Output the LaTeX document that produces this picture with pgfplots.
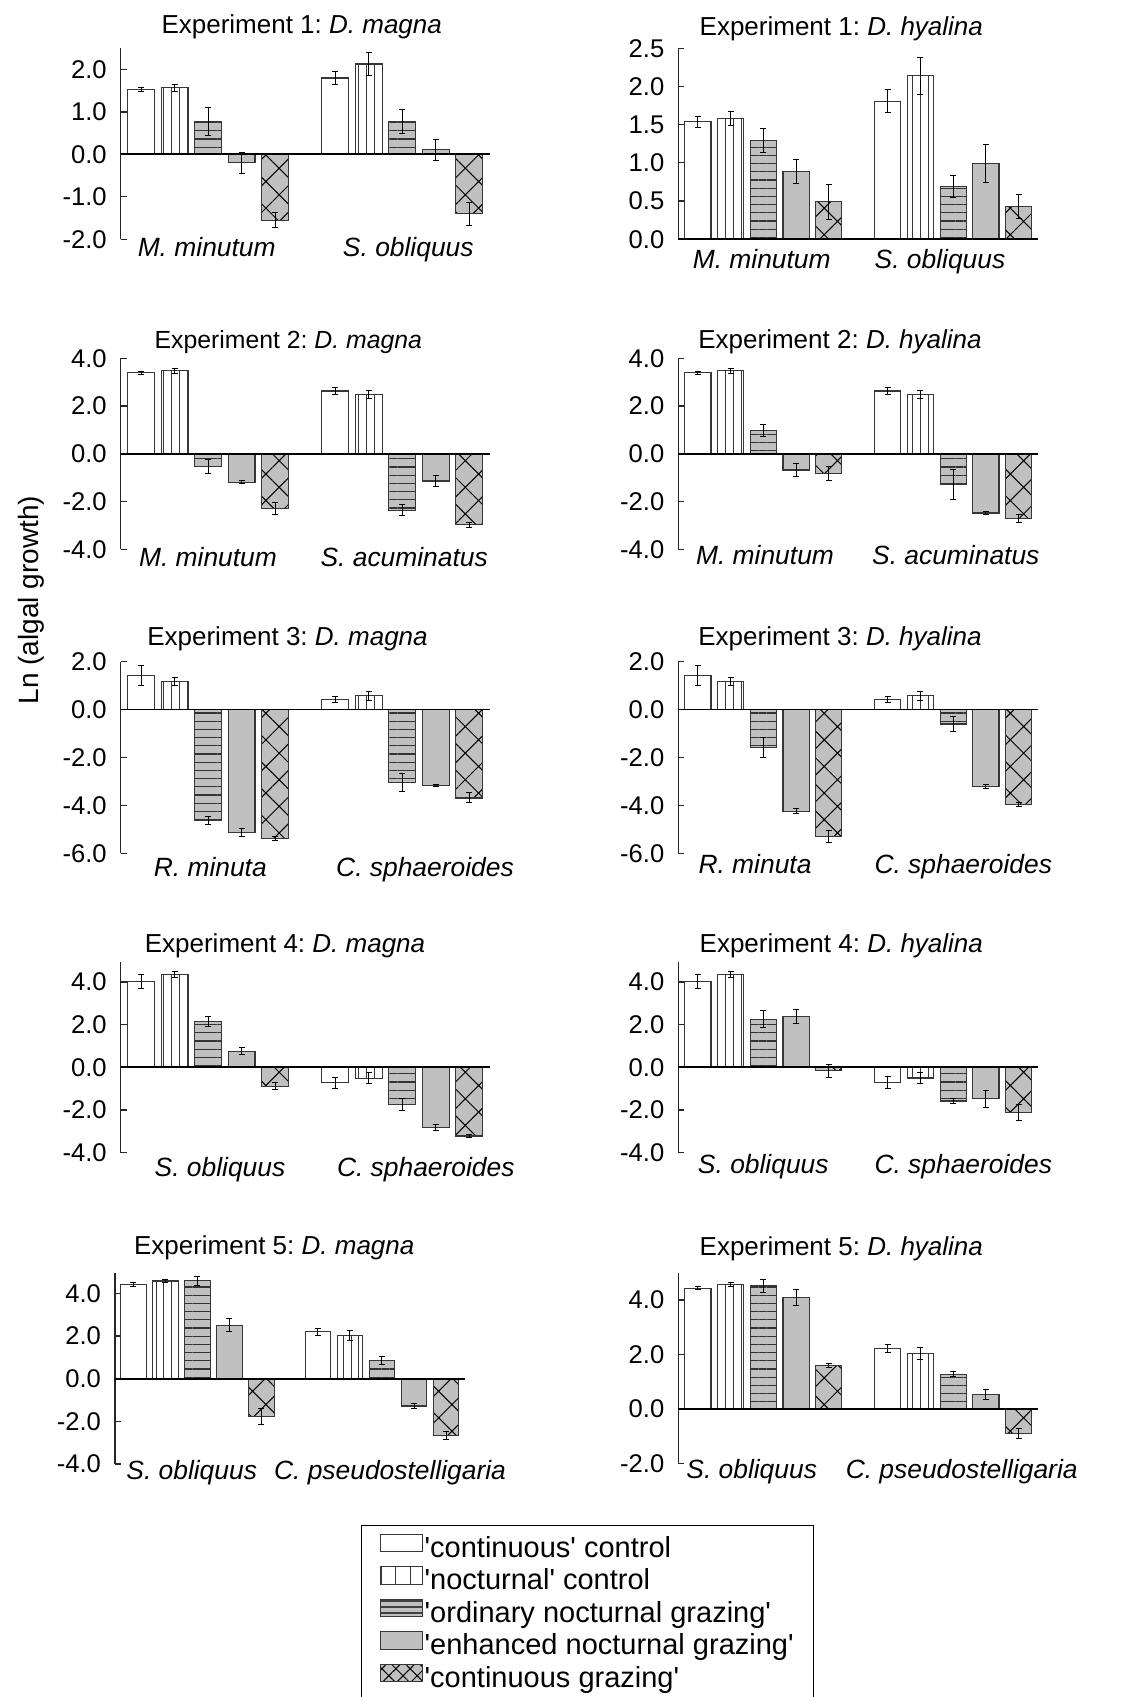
\documentclass[border=0pt]{standalone}
\usepackage{fontspec}
\setmainfont{Liberation Sans}
\usepackage{pgfplots}
\pgfplotsset{compat=1.18}
\usetikzlibrary{patterns.meta}
\frenchspacing

\definecolor{barfill}{RGB}{192,192,192}
\definecolor{edge}{RGB}{55,55,55}

\tikzset{zero/.style={line width=0.9pt, black}}
\pgfplotsset{
  panel/.style={
    scale only axis, anchor=north west, clip=false,
    axis x line=none, axis y line=left,
    axis line style={-}, y axis line style={line width=0.6pt, black!85},
    tick align=inside, major tick length=3pt,
    ytick style={black!85, line width=0.6pt},
    xmin=-0.6, xmax=10.4,
    yticklabel style={/pgf/number format/.cd, fixed, fixed zerofill, precision=1,
      assume math mode=true, /tikz/.cd, font=\fontsize{12.8}{15}\selectfont, xshift=-3.5pt},
  },
  sbar/.style={ybar, bar width=0.8, bar shift=0pt, draw=edge, line width=0.55pt,
    error bars/.cd, y dir=both, y explicit, error mark=-,
    error bar style={black, line width=0.5pt},
    error mark options={rotate=90, black, mark size=1.5pt, line width=0.5pt}},
  s1/.style={fill=white, sbar},
  s2/.style={fill=white, postaction={pattern={Lines[angle=90,distance=3.9pt,line width=0.5pt]}, pattern color=edge}, sbar},
  s3/.style={fill=barfill, postaction={pattern={Lines[angle=0,distance=4.1pt,line width=0.6pt]}, pattern color=black!80}, sbar},
  s4/.style={fill=barfill, sbar},
  s5/.style={fill=barfill, postaction={pattern={Hatch[angle=45,distance=9.4pt,line width=0.5pt]}, pattern color=black}, sbar},
}
\newcommand\ttl{\fontsize{13}{15}\selectfont}
\newcommand\cat{\fontsize{13.2}{15}\selectfont\itshape}
\newcommand\q{\textquotesingle}

\begin{document}
\begin{tikzpicture}
\useasboundingbox (0,0) rectangle (568pt,848.5pt);

% ---------- Row 1 ----------
\begin{axis}[panel, at={(60.35pt,824.35pt)}, width=184.65pt, height=95.5pt,
  xmin=-0.61, xmax=10.42, ymin=-2, ymax=2.5, ytick={-2,-1,0,1,2}]
\addplot[s1] coordinates {(0,1.53) +- (0,0.05) (5.8,1.80) +- (0,0.15)};
\addplot[s2] coordinates {(1,1.57) +- (0,0.08) (6.8,2.13) +- (0,0.26)};
\addplot[s3] coordinates {(2,0.78) +- (0,0.33) (7.8,0.78) +- (0,0.28)};
\addplot[s4] coordinates {(3,-0.20) +- (0,0.25) (8.8,0.11) +- (0,0.25)};
\addplot[s5] coordinates {(4,-1.55) +- (0,0.17) (9.8,-1.40) +- (0,0.27)};
\draw[zero] (axis cs:-0.61,0) -- (axis cs:10.42,0);
\end{axis}

\begin{axis}[panel, at={(339.15pt,824.35pt)}, width=180pt, height=95.5pt,
  ymin=0, ymax=2.5, ytick={0,0.5,1,1.5,2,2.5}]
\addplot[s1] coordinates {(0,1.536) +- (0,0.07) (5.8,1.806) +- (0,0.15)};
\addplot[s2] coordinates {(1,1.58) +- (0,0.09) (6.8,2.14) +- (0,0.245)};
\addplot[s3] coordinates {(2,1.29) +- (0,0.16) (7.8,0.69) +- (0,0.14)};
\addplot[s4] coordinates {(3,0.886) +- (0,0.155) (8.8,0.99) +- (0,0.25)};
\addplot[s5] coordinates {(4,0.49) +- (0,0.23) (9.8,0.43) +- (0,0.155)};
\draw[zero] (axis cs:-0.6,0) -- (axis cs:10.4,0);
\end{axis}

% ---------- Row 2 ----------
\begin{axis}[panel, at={(60.35pt,669.35pt)}, width=184.65pt, height=95.5pt,
  xmin=-0.61, xmax=10.42, ymin=-4, ymax=4, ytick={-4,-2,0,2,4}]
\addplot[s1] coordinates {(0,3.39) +- (0,0.07) (5.8,2.63) +- (0,0.14)};
\addplot[s2] coordinates {(1,3.48) +- (0,0.10) (6.8,2.48) +- (0,0.17)};
\addplot[s3] coordinates {(2,-0.53) +- (0,0.30) (7.8,-2.36) +- (0,0.23)};
\addplot[s4] coordinates {(3,-1.20) +- (0,0.06) (8.8,-1.14) +- (0,0.25)};
\addplot[s5] coordinates {(4,-2.30) +- (0,0.26) (9.8,-2.98) +- (0,0.10)};
\draw[zero] (axis cs:-0.61,0) -- (axis cs:10.42,0);
\end{axis}

\begin{axis}[panel, at={(339.15pt,669.35pt)}, width=180pt, height=95.5pt,
  ymin=-4, ymax=4, ytick={-4,-2,0,2,4}]
\addplot[s1] coordinates {(0,3.39) +- (0,0.07) (5.8,2.63) +- (0,0.14)};
\addplot[s2] coordinates {(1,3.48) +- (0,0.10) (6.8,2.48) +- (0,0.17)};
\addplot[s3] coordinates {(2,0.98) +- (0,0.26) (7.8,-1.28) +- (0,0.62)};
\addplot[s4] coordinates {(3,-0.68) +- (0,0.29) (8.8,-2.48) +- (0,0.08)};
\addplot[s5] coordinates {(4,-0.82) +- (0,0.28) (9.8,-2.72) +- (0,0.17)};
\draw[zero] (axis cs:-0.6,0) -- (axis cs:10.4,0);
\end{axis}

% ---------- Row 3 ----------
\begin{axis}[panel, at={(60.35pt,517.65pt)}, width=184.65pt, height=95.8pt,
  xmin=-0.61, xmax=10.42, ymin=-6, ymax=2, ytick={-6,-4,-2,0,2}]
\addplot[s1] coordinates {(0,1.42) +- (0,0.40) (5.8,0.42) +- (0,0.125)};
\addplot[s2] coordinates {(1,1.17) +- (0,0.16) (6.8,0.57) +- (0,0.19)};
\addplot[s3] coordinates {(2,-4.63) +- (0,0.15) (7.8,-3.04) +- (0,0.37)};
\addplot[s4] coordinates {(3,-5.13) +- (0,0.15) (8.8,-3.18) +- (0,0.04)};
\addplot[s5] coordinates {(4,-5.38) +- (0,0.07) (9.8,-3.69) +- (0,0.21)};
\draw[zero] (axis cs:-0.61,0) -- (axis cs:10.42,0);
\end{axis}

\begin{axis}[panel, at={(339.15pt,517.65pt)}, width=180pt, height=95.8pt,
  ymin=-6, ymax=2, ytick={-6,-4,-2,0,2}]
\addplot[s1] coordinates {(0,1.42) +- (0,0.40) (5.8,0.42) +- (0,0.125)};
\addplot[s2] coordinates {(1,1.17) +- (0,0.16) (6.8,0.57) +- (0,0.19)};
\addplot[s3] coordinates {(2,-1.58) +- (0,0.42) (7.8,-0.60) +- (0,0.31)};
\addplot[s4] coordinates {(3,-4.25) +- (0,0.10) (8.8,-3.21) +- (0,0.09)};
\addplot[s5] coordinates {(4,-5.29) +- (0,0.26) (9.8,-3.96) +- (0,0.10)};
\draw[zero] (axis cs:-0.6,0) -- (axis cs:10.4,0);
\end{axis}

% ---------- Row 4 ----------
\begin{axis}[panel, at={(60.35pt,367.65pt)}, width=184.65pt, height=95.5pt,
  xmin=-0.61, xmax=10.42, ymin=-4, ymax=4.95, ytick={-4,-2,0,2,4}]
\addplot[s1] coordinates {(0,4.02) +- (0,0.34) (5.8,-0.73) +- (0,0.26)};
\addplot[s2] coordinates {(1,4.34) +- (0,0.13) (6.8,-0.51) +- (0,0.26)};
\addplot[s3] coordinates {(2,2.13) +- (0,0.23) (7.8,-1.73) +- (0,0.28)};
\addplot[s4] coordinates {(3,0.76) +- (0,0.16) (8.8,-2.82) +- (0,0.125)};
\addplot[s5] coordinates {(4,-0.89) +- (0,0.16) (9.8,-3.22) +- (0,0.09)};
\draw[zero] (axis cs:-0.61,0) -- (axis cs:10.42,0);
\end{axis}

\begin{axis}[panel, at={(339.15pt,367.65pt)}, width=180pt, height=95.5pt,
  ymin=-4, ymax=4.95, ytick={-4,-2,0,2,4}]
\addplot[s1] coordinates {(0,4.02) +- (0,0.34) (5.8,-0.71) +- (0,0.26)};
\addplot[s2] coordinates {(1,4.34) +- (0,0.13) (6.8,-0.50) +- (0,0.26)};
\addplot[s3] coordinates {(2,2.25) +- (0,0.40) (7.8,-1.58) +- (0,0.11)};
\addplot[s4] coordinates {(3,2.40) +- (0,0.33) (8.8,-1.47) +- (0,0.40)};
\addplot[s5] coordinates {(4,-0.16) +- (0,0.30) (9.8,-2.12) +- (0,0.36)};
\draw[zero] (axis cs:-0.6,0) -- (axis cs:10.4,0);
\end{axis}

% ---------- Row 5 ----------
\begin{axis}[panel, at={(57.5pt,212.15pt)}, width=175pt, height=95.65pt,
  xmin=-0.57, xmax=10.35, ymin=-4, ymax=4.97, ytick={-4,-2,0,2,4}]
\addplot[s1] coordinates {(0,4.42) +- (0,0.08) (5.76,2.20) +- (0,0.17)};
\addplot[s2] coordinates {(1,4.58) +- (0,0.07) (6.76,2.03) +- (0,0.22)};
\addplot[s3] coordinates {(2,4.59) +- (0,0.20) (7.76,0.84) +- (0,0.19)};
\addplot[s4] coordinates {(3,2.50) +- (0,0.31) (8.76,-1.28) +- (0,0.11)};
\addplot[s5] coordinates {(4,-1.78) +- (0,0.36) (9.76,-2.67) +- (0,0.18)};
\draw[zero] (axis cs:-0.57,0) -- (axis cs:10.35,0);
\end{axis}

\begin{axis}[panel, at={(339.15pt,212.15pt)}, width=180pt, height=95.3pt,
  ymin=-2, ymax=5, ytick={-2,0,2,4}]
\addplot[s1] coordinates {(0,4.43) +- (0,0.06) (5.8,2.22) +- (0,0.15)};
\addplot[s2] coordinates {(1,4.57) +- (0,0.08) (6.8,2.04) +- (0,0.23)};
\addplot[s3] coordinates {(2,4.52) +- (0,0.23) (7.8,1.27) +- (0,0.10)};
\addplot[s4] coordinates {(3,4.09) +- (0,0.30) (8.8,0.54) +- (0,0.18)};
\addplot[s5] coordinates {(4,1.59) +- (0,0.08) (9.8,-0.91) +- (0,0.18)};
\draw[zero] (axis cs:-0.6,0) -- (axis cs:10.4,0);
\end{axis}

% ---------- Legend ----------
\begin{axis}[at={(180.5pt,86pt)}, anchor=south west, scale only axis, width=1pt, height=1pt,
  hide axis, xmin=0, xmax=1, ymin=0, ymax=1,
  legend image code/.code={\draw[#1] (0pt,-0.6pt) rectangle (21.2pt,8.2pt);},
  legend cell align=left,
  legend style={at={(0,0)}, anchor=north west, draw=black, line width=0.6pt,
    inner xsep=9pt, inner ysep=4pt, row sep=0pt,
    font=\fontsize{14.5}{15}\selectfont,
    nodes={inner sep=0.8pt, text height=10.4pt, text depth=3.6pt}}]
\addlegendimage{draw=edge, line width=0.5pt, fill=white}
\addlegendentry{\q continuous\q{} control}
\addlegendimage{draw=edge, line width=0.5pt, fill=white, postaction={pattern={Lines[angle=90,distance=7.07pt,line width=0.5pt]}, pattern color=edge}}
\addlegendentry{\q nocturnal\q{} control}
\addlegendimage{draw=edge, line width=0.5pt, fill=barfill, postaction={pattern={Lines[angle=0,distance=3pt,line width=0.55pt]}, pattern color=black!75}}
\addlegendentry{\q ordinary nocturnal grazing\q}
\addlegendimage{draw=edge, line width=0.5pt, fill=barfill}
\addlegendentry{\q enhanced nocturnal grazing\q}
\addlegendimage{draw=edge, line width=0.5pt, fill=barfill, postaction={pattern={Hatch[angle=45,distance=5pt,line width=0.5pt]}, pattern color=black}}
\addlegendentry{\q continuous grazing\q}
\end{axis}

% ---------- Titles ----------
\node[anchor=base] at (150.85pt,831.85pt) {\ttl Experiment 1: \textit{D. magna}};
\node[anchor=base] at (420.65pt,830.5pt) {\ttl Experiment 1: \textit{D. hyalina}};
\node[anchor=base] at (144.15pt,674pt) {\fontsize{12.4}{15}\selectfont Experiment 2: \textit{D. magna}};
\node[anchor=base] at (420pt,674pt) {\ttl Experiment 2: \textit{D. hyalina}};
\node[anchor=base] at (143.75pt,525.5pt) {\ttl Experiment 3: \textit{D. magna}};
\node[anchor=base] at (420pt,525.5pt) {\ttl Experiment 3: \textit{D. hyalina}};
\node[anchor=base] at (142.5pt,372.35pt) {\ttl Experiment 4: \textit{D. magna}};
\node[anchor=base] at (420.65pt,372.35pt) {\ttl Experiment 4: \textit{D. hyalina}};
\node[anchor=base] at (137.1pt,221.35pt) {\ttl Experiment 5: \textit{D. magna}};
\node[anchor=base] at (420.65pt,220.5pt) {\ttl Experiment 5: \textit{D. hyalina}};

% ---------- Category labels ----------
\node[anchor=base] at (103.35pt,720.15pt) {\cat M. minutum};
\node[anchor=base] at (204.15pt,720.15pt) {\cat S. obliquus};
\node[anchor=base] at (380.85pt,714.35pt) {\cat M. minutum};
\node[anchor=base] at (470pt,714.35pt) {\cat S. obliquus};
\node[anchor=base] at (104pt,565.15pt) {\cat M. minutum};
\node[anchor=base] at (202.1pt,565.15pt) {\cat S. acuminatus};
\node[anchor=base] at (382.5pt,566pt) {\cat M. minutum};
\node[anchor=base] at (477.9pt,566pt) {\cat S. acuminatus};
\node[anchor=base] at (105.15pt,410.15pt) {\cat R. minuta};
\node[anchor=base] at (212.5pt,410.15pt) {\cat C. sphaeroides};
\node[anchor=base] at (377.5pt,411.85pt) {\cat R. minuta};
\node[anchor=base] at (481.65pt,411.85pt) {\cat C. sphaeroides};
\node[anchor=base] at (110pt,260.15pt) {\cat S. obliquus};
\node[anchor=base] at (212.9pt,260.15pt) {\cat C. sphaeroides};
\node[anchor=base] at (381.65pt,261.85pt) {\cat S. obliquus};
\node[anchor=base] at (481.65pt,261.85pt) {\cat C. sphaeroides};
\node[anchor=base] at (95.85pt,108.5pt) {\cat S. obliquus};
\node[anchor=base] at (195pt,108.5pt) {\cat C. pseudostelligaria};
\node[anchor=base] at (375.85pt,109.35pt) {\cat S. obliquus};
\node[anchor=base] at (480.85pt,109.35pt) {\cat C. pseudostelligaria};

% ---------- Y label ----------
\node[rotate=90] at (15.5pt,548.5pt) {\fontsize{14}{16}\selectfont Ln (algal growth)};
\end{tikzpicture}
\end{document}
